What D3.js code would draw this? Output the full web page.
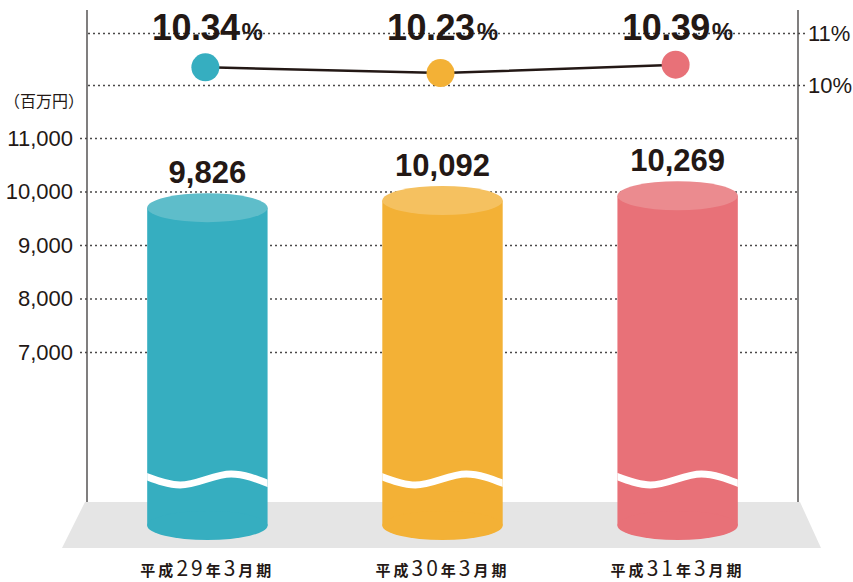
<!DOCTYPE html>
<html>
<head>
<meta charset="utf-8">
<script src="https://cdn.jsdelivr.net/npm/d3@7"></script>
<style>
body { margin: 0; background: #fff; }
svg { display: block; }
</style>
</head>
<body>
<div id="chart-area"></div>
<script>
// data
var periods = ["平成29年3月期", "平成30年3月期", "平成31年3月期"];
var sales = [9826, 10092, 10269];          // 百万円
var ratios = [10.34, 10.23, 10.39];        // %
var salesTicks = [7000, 8000, 9000, 10000, 11000];
var ratioTicks = [10, 11];
var sideColors = ["#36aec0", "#f3b136", "#e87178"];
var topColors = ["#5ebdca", "#f5c160", "#eb8b8f"];

var ink = "#231815",
    axisColor = "#4a4848",
    width = 853,
    height = 582;

var svg = d3.select("#chart-area").append("svg")
    .attr("width", width)
    .attr("height", height);

var x = d3.scaleBand()
    .domain(periods)
    .range([87, 798])
    .paddingInner(0.488)
    .paddingOuter(0.256);
var y = d3.scaleLinear()
    .domain([7000, 11000])
    .range([352, 138]);
// the cylinder tops in the original are drawn on a compressed scale (cut bars)
var yCyl = d3.scaleLinear()
    .domain([9000, 11000])
    .range([230, 176]);
var yRatio = d3.scaleLinear()
    .domain([10, 11])
    .range([85, 33]);

var floorTop = 502, floorBottom = 548, cylBottom = 525.5, ry = 14.5;

// floor
svg.append("polygon")
    .attr("points", [[85, floorTop], [800, floorTop], [821, floorBottom], [62, floorBottom]].join(" "))
    .attr("fill", "#e5e5e5");

// left axis (sales) with dotted grid
var leftAxis = svg.append("g")
    .attr("transform", "translate(80,0)")
    .call(d3.axisLeft(y).tickValues(salesTicks).tickSize(-718).tickPadding(7).tickFormat(d3.format(",")));
// right axis (ratio) with dotted grid
var rightAxis = svg.append("g")
    .attr("transform", "translate(805,0)")
    .call(d3.axisRight(yRatio).tickValues(ratioTicks).tickSize(-718).tickPadding(3).tickFormat(function (d) { return d + "%"; }));

[leftAxis, rightAxis].forEach(function (g) {
    g.select(".domain").remove();
    g.selectAll(".tick line")
        .attr("stroke", axisColor)
        .attr("stroke-width", 1.5)
        .attr("stroke-dasharray", "2,3");
    g.selectAll(".tick text")
        .attr("fill", ink)
        .style("font-family", "'Liberation Sans', Arial, sans-serif")
        .style("font-size", "22px");
});

// vertical axis lines
[87, 798].forEach(function (xx) {
    svg.append("line")
        .attr("x1", xx).attr("x2", xx)
        .attr("y1", 10).attr("y2", floorTop)
        .attr("stroke", axisColor)
        .attr("stroke-width", 1.4);
});

svg.append("text")
    .attr("x", 4)
    .attr("y", 107)
    .attr("fill", ink)
    .style("font-family", "'Noto Sans CJK JP', sans-serif")
    .style("font-size", "16px")
    .text("（百万円）");

// cylinders
var bw = x.bandwidth();
var defs = svg.append("defs");
var wave = d3.line().curve(d3.curveMonotoneX);

periods.forEach(function (p, i) {
    var x0 = x(p), cx = x0 + bw / 2, cyTop = yCyl(sales[i]);
    var g = svg.append("g");
    defs.append("clipPath").attr("id", "clip" + i)
        .append("rect")
        .attr("x", x0).attr("y", cyTop)
        .attr("width", bw).attr("height", cylBottom - cyTop);
    g.append("rect")
        .attr("x", x0).attr("y", cyTop)
        .attr("width", bw).attr("height", cylBottom - cyTop)
        .attr("fill", sideColors[i]);
    g.append("ellipse")
        .attr("cx", cx).attr("cy", cylBottom)
        .attr("rx", bw / 2).attr("ry", ry)
        .attr("fill", sideColors[i]);
    g.append("path")
        .attr("d", wave([[x0 - 2, 476], [x0 + 33, 485], [x0 + 84, 474], [x0 + bw + 2, 484]]))
        .attr("clip-path", "url(#clip" + i + ")")
        .attr("fill", "none")
        .attr("stroke", "#fff")
        .attr("stroke-width", 7);
    g.append("ellipse")
        .attr("cx", cx).attr("cy", cyTop)
        .attr("rx", bw / 2).attr("ry", ry)
        .attr("fill", topColors[i]);
    g.append("text")
        .attr("x", cx)
        .attr("y", cyTop - 25)
        .attr("text-anchor", "middle")
        .attr("fill", ink)
        .style("font-family", "'Liberation Sans', Arial, sans-serif")
        .style("font-weight", "bold")
        .style("font-size", "31px")
        .text(d3.format(",")(sales[i]));

    // category label, digits set larger
    var t = svg.append("text")
        .attr("x", cx)
        .attr("y", 576)
        .attr("text-anchor", "middle")
        .attr("fill", ink)
        .style("letter-spacing", "3px")
        .style("font-family", "'Noto Sans CJK JP', sans-serif")
        .style("font-weight", "bold")
        .style("font-size", "15px");
    p.split(/(\d+)/).forEach(function (part) {
        if (!part) return;
        var s = t.append("tspan").text(part);
        if (/\d/.test(part)) {
            s.style("font-size", "21px").style("font-weight", "normal");
        }
    });
});

// ratio line
var line = d3.line()
    .x(function (d, i) { return x(periods[i]) + bw / 2; })
    .y(function (d) { return yRatio(d); });
svg.append("path")
    .datum(ratios)
    .attr("d", line)
    .attr("fill", "none")
    .attr("stroke", ink)
    .attr("stroke-width", 2.5);
svg.selectAll(".dot")
    .data(ratios)
    .enter()
    .append("circle")
    .attr("class", "dot")
    .attr("cx", function (d, i) { return x(periods[i]) + bw / 2 - 2; })
    .attr("cy", function (d) { return yRatio(d); })
    .attr("r", 14)
    .attr("fill", function (d, i) { return sideColors[i]; });

var pct = svg.selectAll(".pct")
    .data(ratios)
    .enter()
    .append("text")
    .attr("class", "pct")
    .attr("x", function (d, i) { return x(periods[i]) + bw / 2; })
    .attr("y", 40)
    .attr("text-anchor", "middle")
    .attr("fill", ink)
    .style("font-family", "'Liberation Sans', Arial, sans-serif")
    .style("font-weight", "bold");
pct.append("tspan")
    .style("font-size", "36px")
    .style("letter-spacing", "-0.5px")
    .text(function (d) { return d3.format(".2f")(d); });
pct.append("tspan")
    .attr("dx", 2)
    .style("font-size", "24px")
    .text("%");
</script>
</body>
</html>
